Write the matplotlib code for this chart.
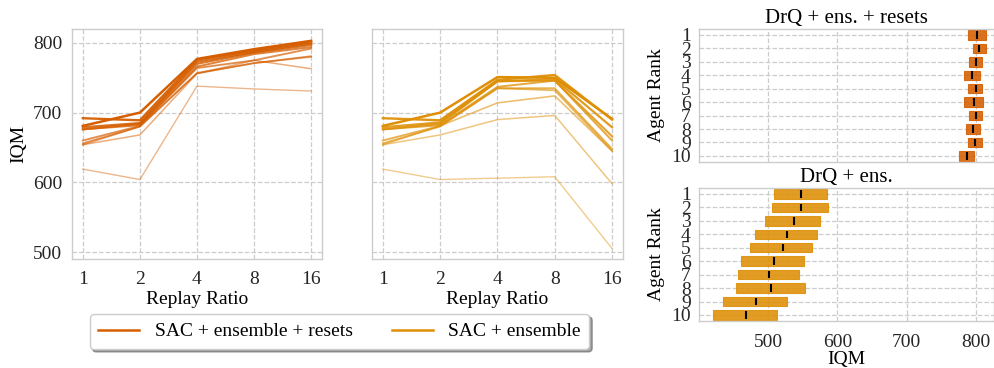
import numpy as np
import matplotlib
matplotlib.use("Agg")
import matplotlib.pyplot as plt

plt.rcParams['font.family'] = ['Liberation Serif', 'DejaVu Serif']
plt.rcParams['font.size'] = 14

C_RESET = '#D55E00'
C_ENS = '#DE8F05'
GRID = '#cccccc'

replay_ratios = [1, 2, 4, 8, 16]

# IQM per replay ratio, one row per agent (best first)
iqm_resets = [
    [681, 700, 777, 791, 803],
    [692, 689, 776, 789, 801],
    [679, 685, 773, 787, 799],
    [676, 684, 770, 786, 797],
    [676, 682, 766, 784, 794],
    [660, 681, 764, 775, 792],
    [656, 680, 757, 771, 781],
    [654, 680, 756, 771, 780],
    [654, 668, 756, 775, 763],
    [619, 604, 738, 734, 731],
]
iqm_ensemble = [
    [681, 700, 751, 750, 691],
    [692, 689, 747, 754, 690],
    [679, 686, 745, 748, 679],
    [676, 684, 745, 746, 666],
    [676, 682, 737, 746, 660],
    [660, 681, 735, 735, 648],
    [656, 680, 735, 732, 645],
    [654, 681, 714, 724, 645],
    [654, 668, 690, 696, 598],
    [619, 604, 606, 608, 505],
]

ranks = np.arange(1, 11)
# confidence intervals (low, high) and medians for each agent rank
resets_lo = [788, 795, 790, 782, 789, 782, 790, 786, 788, 776]
resets_hi = [814, 814, 808, 806, 809, 810, 808, 806, 808, 797]
resets_med = [802, 805, 800, 794, 800, 797, 800, 796, 799, 787]

ens_lo = [508, 505, 495, 481, 474, 460, 456, 453, 434, 420]
ens_hi = [585, 587, 575, 570, 563, 552, 544, 553, 527, 512]
ens_med = [548, 548, 537, 527, 522, 509, 501, 504, 482, 468]

fig = plt.figure(figsize=(9.94, 3.68), dpi=100)

ax1 = fig.add_axes([0.0724, 0.2962, 0.2515, 0.625])
ax2 = fig.add_axes([0.3742, 0.2962, 0.2525, 0.625], sharey=ax1)
ax3 = fig.add_axes([0.7032, 0.5598, 0.2968, 0.3614])
ax4 = fig.add_axes([0.7032, 0.1277, 0.2968, 0.3614], sharex=ax3)

def style(ax):
    ax.set_facecolor('white')
    for s in ax.spines.values():
        s.set_color(GRID)
        s.set_linewidth(1.0)
    ax.grid(True, color=GRID, linestyle='--', linewidth=0.9)
    ax.set_axisbelow(True)
    ax.tick_params(length=0, colors='#262626')
    ax.tick_params(axis='x', pad=9)
    ax.tick_params(axis='y', pad=7)

n = len(iqm_resets)
alphas = np.linspace(1.0, 0.45, n)
widths = np.linspace(1.8, 1.0, n)
xpos = np.log2(replay_ratios)

for ax, data, col in [(ax1, iqm_resets, C_RESET), (ax2, iqm_ensemble, C_ENS)]:
    style(ax)
    for i, row in enumerate(data):
        ax.plot(xpos, row, color=col, alpha=alphas[i], lw=widths[i])
    ax.set_xticks(xpos)
    ax.set_xticklabels([str(r) for r in replay_ratios])
    ax.set_xlim(-0.19, 4.19)
    ax.set_xlabel('Replay Ratio', labelpad=2)

ax1.set_ylim(490, 820)
ax1.set_yticks([500, 600, 700, 800])
ax1.set_ylabel('IQM', labelpad=4)
ax2.tick_params(labelleft=False)

for ax, lo, hi, med, col, title in [
        (ax3, resets_lo, resets_hi, resets_med, C_RESET, 'DrQ + ens. + resets'),
        (ax4, ens_lo, ens_hi, ens_med, C_ENS, 'DrQ + ens.')]:
    style(ax)
    ax.tick_params(axis='y', pad=6)
    lo = np.array(lo)
    hi = np.array(hi)
    ax.barh(ranks, hi - lo, left=lo, height=0.7, color=col, alpha=0.88,
            edgecolor=col, linewidth=0.8)
    ax.vlines(med, ranks - 0.28, ranks + 0.28, color='black', lw=1.5)
    ax.set_yticks(ranks)
    ax.set_yticklabels([str(r) for r in ranks])
    ax.set_ylim(10.45, 0.56)
    ax.set_ylabel('Agent Rank', labelpad=4)
    ax.set_title(title, fontsize=15, pad=4)

ax3.set_xlim(400, 826)
ax3.set_xticks([500, 600, 700, 800])
ax3.tick_params(labelbottom=False)
ax4.set_xlabel('IQM', labelpad=0)

handles = [plt.Line2D([], [], color=C_RESET, lw=1.8),
           plt.Line2D([], [], color=C_ENS, lw=1.8)]
fig.legend(handles, ['SAC + ensemble + resets', 'SAC + ensemble'],
           loc='center', bbox_to_anchor=(0.3416, 0.099), ncol=2,
           frameon=True, fancybox=True, shadow=True, edgecolor=GRID,
           handlelength=2.1, handletextpad=0.8, columnspacing=2.0,
           borderpad=0.45)

fig.savefig('out.png', dpi=100, facecolor='white')
